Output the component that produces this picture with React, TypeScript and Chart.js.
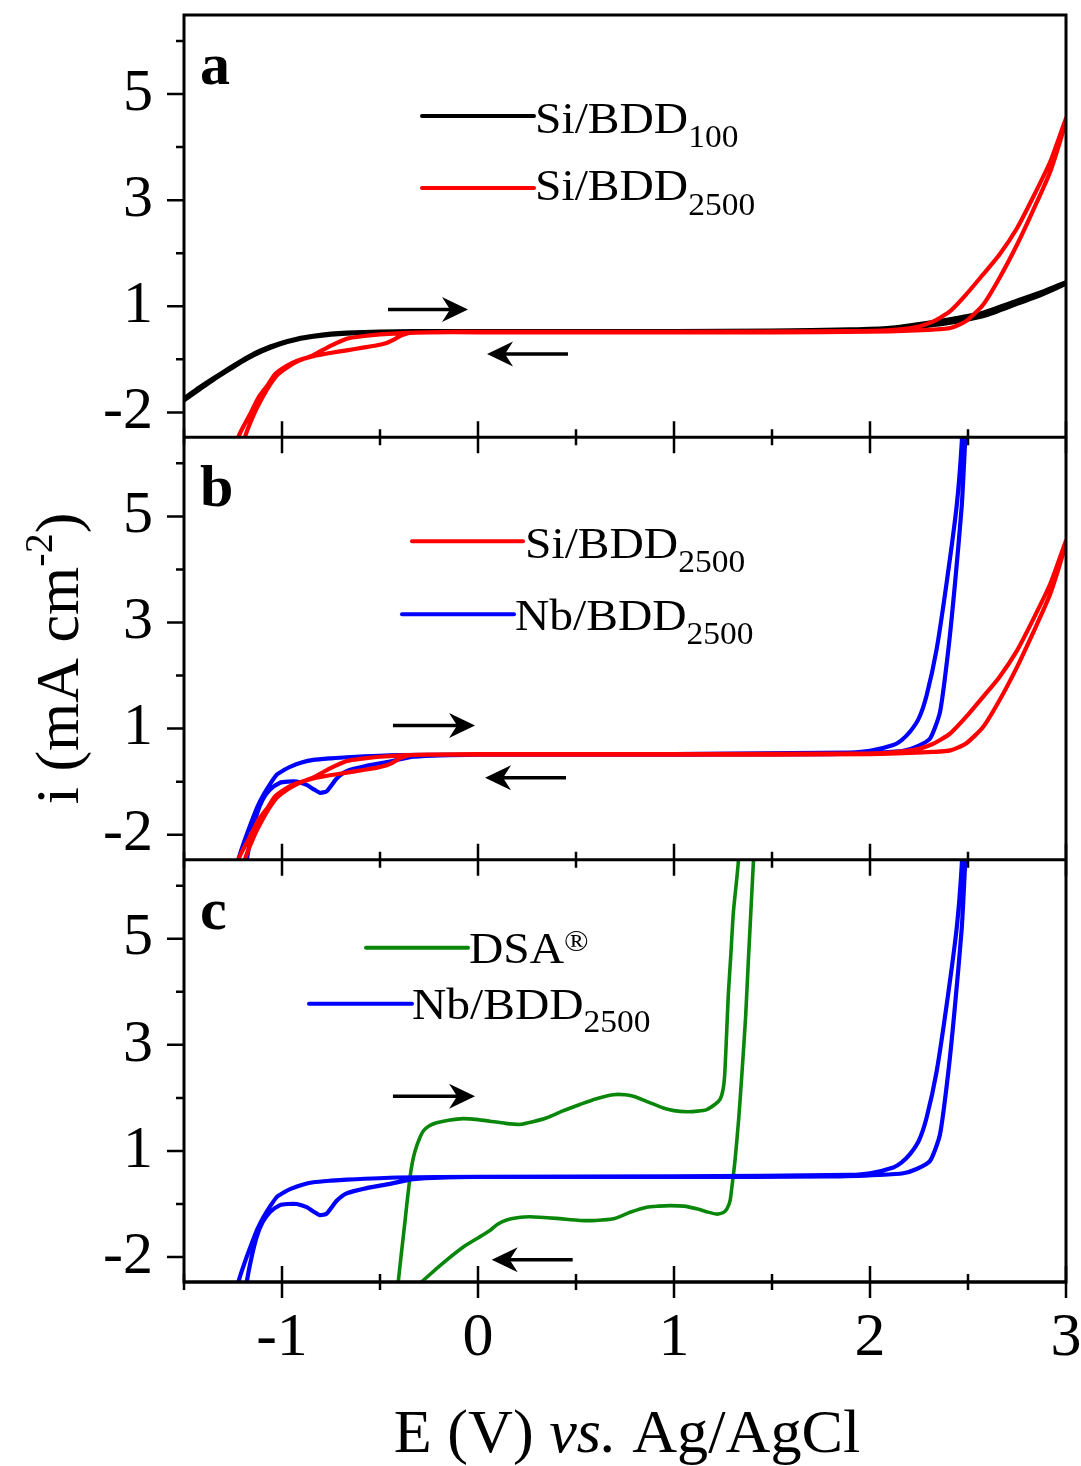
import React, { useEffect, useRef } from 'react';
import { Chart, registerables } from 'chart.js';

Chart.register(...registerables);

const SERIF = '"Liberation Serif", "Times New Roman", serif';

// ---------- axes ----------
const xRange = [-1.5, 3];
const yRange = [-1.47, 6.49];
const xMajorTicks = [-1, 0, 1, 2, 3];
const xTickLabels = ['-1', '0', '1', '2', '3'];
const xMinorTicks = [-1.5, -0.5, 0.5, 1.5, 2.5];
const yMajorTicks = [-1, 1, 3, 5];
const yTickLabels = ['-2', '1', '3', '5'];
const yMinorTicks = [0, 2, 4, 6];
const panelIds = ['ya', 'yb', 'yc'];

// ---------- series ----------
// Si/BDD100 (black), panel a
const bdd100E = [
  -1.5, -1.42, -1.35, -1.26, -1.18, -1.1, -1.01, -0.92, -0.84, -0.75, -0.67, -0.5, -0.33, 0, 0.5, 1.0, 1.5, 1.9, 2.1, 2.32, 2.45, 2.58, 2.75, 2.88, 3.0,
  3.0, 2.88, 2.75, 2.58, 2.45, 2.32, 2.1, 1.9, 1.5, 1.0, 0, -0.33, -0.5, -0.67, -0.75, -0.84, -0.92, -1.01, -1.1, -1.18, -1.26, -1.35, -1.42, -1.5,
];
const bdd100I = [
  -0.74, -0.53, -0.36, -0.15, 0.03, 0.18, 0.3, 0.39, 0.44, 0.48, 0.5, 0.52, 0.53, 0.53, 0.53, 0.53, 0.54, 0.56, 0.59, 0.7, 0.78, 0.88, 1.1, 1.27, 1.45,
  1.43, 1.23, 1.05, 0.82, 0.72, 0.65, 0.57, 0.54, 0.53, 0.52, 0.52, 0.52, 0.51, 0.49, 0.47, 0.43, 0.38, 0.29, 0.16, 0.01, -0.17, -0.38, -0.56, -0.77,
];

// Si/BDD2500 (red), panels a and b
const si2500E = [
  -1.245, -1.223, -1.165, -1.12, -1.07, -1.036, -0.98, -0.925, -0.84, -0.755, -0.67, -0.587, -0.52, -0.466, -0.43, -0.398, -0.347, -0.25, 0, 0.5, 1.0, 1.5, 2.0, 2.2, 2.32, 2.41, 2.49, 2.577, 2.66, 2.75, 2.83, 2.92, 3.0,
  3.0, 2.92, 2.83, 2.75, 2.66, 2.577, 2.49, 2.41, 2.36, 2.32, 2.25, 2.1, 1.9, 1.0, 0, -0.25, -0.364, -0.5, -0.58, -0.67, -0.755, -0.84, -0.91, -0.96, -1.02, -1.06, -1.1, -1.145, -1.189, -1.21,
];
const si2500I = [
  -2.1, -1.47, -1.05, -0.72, -0.47, -0.28, -0.13, -0.03, 0.06, 0.12, 0.17, 0.22, 0.26, 0.31, 0.37, 0.44, 0.5, 0.51, 0.51, 0.51, 0.51, 0.51, 0.52, 0.54, 0.56, 0.59, 0.72, 1.03, 1.53, 2.16, 2.79, 3.54, 4.48,
  4.54, 3.73, 3.04, 2.47, 1.97, 1.6, 1.22, 0.91, 0.79, 0.71, 0.62, 0.55, 0.53, 0.52, 0.52, 0.51, 0.5, 0.47, 0.44, 0.39, 0.25, 0.08, -0.02, -0.12, -0.28, -0.47, -0.72, -1.05, -1.47, -2.1,
];

// Nb/BDD2500 (blue), panels b and c
const nb2500E = [
  -1.245, -1.223, -1.19, -1.155, -1.125, -1.095, -1.06, -1.027, -0.99, -0.959, -0.9, -0.84, -0.75, -0.67, -0.415, 0, 1.0, 1.8, 2.05, 2.17, 2.238, 2.306, 2.357, 2.4, 2.434, 2.468, 2.485, 2.5,
  2.48, 2.468, 2.442, 2.391, 2.34, 2.289, 2.25, 2.204, 2.16, 2.119, 2.0, 1.898, 1.0, 0, -0.33, -0.449, -0.568, -0.67, -0.721, -0.772, -0.806, -0.84, -0.874, -0.925, -0.97, -1.01, -1.061, -1.1, -1.129, -1.155, -1.18, -1.2,
];
const nb2500I = [
  -2.1, -1.48, -1.1, -0.75, -0.47, -0.25, -0.04, 0.13, 0.22, 0.28, 0.36, 0.41, 0.44, 0.46, 0.5, 0.51, 0.51, 0.52, 0.55, 0.58, 0.66, 0.81, 1.31, 2.5, 3.75, 5.19, 6.38, 7.5,
  7.5, 6.38, 5.19, 3.75, 2.5, 1.63, 1.2, 0.94, 0.78, 0.69, 0.58, 0.55, 0.52, 0.51, 0.47, 0.38, 0.3, 0.2, 0.06, -0.18, -0.21, -0.14, -0.06, 0.0, 0.0, -0.02, -0.15, -0.35, -0.62, -1.0, -1.48, -2.1,
];

// DSA (green), panel c
const dsaE = [
  -0.425, -0.407, -0.39, -0.372, -0.36, -0.347, -0.335, -0.321, -0.3, -0.279, -0.25, -0.211, -0.15, -0.075, 0.0, 0.061, 0.14, 0.214, 0.28, 0.351, 0.43, 0.52, 0.6, 0.69, 0.75, 0.792, 0.87, 0.945, 1.0, 1.065, 1.12, 1.167, 1.21, 1.235, 1.25, 1.258, 1.266, 1.277, 1.29, 1.303, 1.328, 1.34,
  1.42, 1.405, 1.392, 1.379, 1.365, 1.345, 1.33, 1.311, 1.298, 1.286, 1.27, 1.252, 1.218, 1.17, 1.116, 1.05, 0.98, 0.92, 0.861, 0.78, 0.69, 0.6, 0.52, 0.4, 0.265, 0.2, 0.146, 0.1, 0.061, 0.0, -0.075, -0.194, -0.279, -0.44,
];
const dsaI = [
  -2.1, -1.47, -0.9, -0.31, 0.1, 0.5, 0.78, 1.0, 1.22, 1.375, 1.47, 1.53, 1.58, 1.61, 1.59, 1.56, 1.52, 1.5, 1.55, 1.625, 1.75, 1.875, 1.98, 2.06, 2.06, 2.03, 1.92, 1.81, 1.76, 1.74, 1.75, 1.78, 1.88, 1.97, 2.15, 2.4, 3.0, 3.94, 4.7, 5.5, 6.44, 7.5,
  7.5, 6.44, 5.5, 4.56, 3.5, 2.375, 1.6, 0.81, 0.4, 0.06, -0.09, -0.16, -0.19, -0.15, -0.09, -0.04, -0.03, -0.04, -0.06, -0.15, -0.28, -0.31, -0.31, -0.27, -0.24, -0.26, -0.3, -0.38, -0.5, -0.64, -0.81, -1.16, -1.44, -1.95,
];

// sweep-direction arrows: panel, start E, end E, current level
const arrowPanel = ['ya', 'ya', 'yb', 'yb', 'yc', 'yc'];
const arrowE0 = [-0.459, 0.459, -0.434, 0.449, -0.434, 0.483];
const arrowE1 = [-0.051, 0.046, -0.015, 0.036, -0.015, 0.07];
const arrowI = [0.94, 0.1, 1.06, 0.075, 2.03, -1.05];

const panelLetters = ['a', 'b', 'c'];

const BLACK = '#000000';
const RED = '#ff0000';
const BLUE = '#0000ff';
const GREEN = '#0a870a';

const toPts = (E: number[], I: number[]) => E.map((x, i) => ({ x, y: I[i] }));

type Part = { t: string; size: number; dy?: number; style?: string };

function fontOf(p: Part) {
  return `${p.style ? p.style + ' ' : ''}${p.size}px ${SERIF}`;
}

function drawRich(ctx: CanvasRenderingContext2D, x: number, y: number, parts: Part[], align: 'left' | 'center' = 'left', sx = 1) {
  ctx.save();
  ctx.translate(x, y);
  ctx.scale(sx, 1);
  ctx.textBaseline = 'alphabetic';
  ctx.textAlign = 'left';
  ctx.fillStyle = '#000';
  let w = 0;
  for (const p of parts) {
    ctx.font = fontOf(p);
    w += ctx.measureText(p.t).width;
  }
  let cx = align === 'center' ? -w / 2 : 0;
  for (const p of parts) {
    ctx.font = fontOf(p);
    ctx.fillText(p.t, cx, p.dy || 0);
    cx += ctx.measureText(p.t).width;
  }
  ctx.restore();
}

function drawArrow(ctx: CanvasRenderingContext2D, x0: number, x1: number, y: number) {
  const dir = x1 > x0 ? 1 : -1;
  ctx.save();
  ctx.strokeStyle = '#000';
  ctx.fillStyle = '#000';
  ctx.lineWidth = 3.5;
  ctx.beginPath();
  ctx.moveTo(x0, y);
  ctx.lineTo(x1 - dir * 12, y);
  ctx.stroke();
  ctx.beginPath();
  ctx.moveTo(x1, y);
  ctx.lineTo(x1 - dir * 26, y - 12.5);
  ctx.lineTo(x1 - dir * 18, y);
  ctx.lineTo(x1 - dir * 26, y + 12.5);
  ctx.closePath();
  ctx.fill();
  ctx.restore();
}

function legendItem(ctx: CanvasRenderingContext2D, lx0: number, lx1: number, ly: number, color: string, tx: number, ty: number, parts: Part[]) {
  ctx.save();
  ctx.strokeStyle = color;
  ctx.lineWidth = 4;
  ctx.lineCap = 'round';
  ctx.beginPath();
  ctx.moveTo(lx0, ly);
  ctx.lineTo(lx1, ly);
  ctx.stroke();
  ctx.restore();
  drawRich(ctx, tx, ty, parts, 'left', 1.08);
}

const zeroPadding = (s: any) => {
  s.paddingTop = 0;
  s.paddingBottom = 0;
  s.paddingLeft = 0;
  s.paddingRight = 0;
};

const framePlugin = {
  id: 'frame',
  afterDatasetsDraw(chart: any) {
    const ctx: CanvasRenderingContext2D = chart.ctx;
    const { left, right, top, bottom } = chart.chartArea;
    const xs = chart.scales.x;
    ctx.save();
    ctx.strokeStyle = '#000';
    ctx.lineWidth = 3;
    ctx.strokeRect(left, top, right - left, bottom - top);
    for (const id of panelIds) {
      const ys = chart.scales[id];
      ctx.lineWidth = 3;
      ctx.beginPath();
      ctx.moveTo(left, ys.bottom);
      ctx.lineTo(right, ys.bottom);
      ctx.stroke();
      ctx.lineWidth = 2.5;
      ctx.beginPath();
      for (const v of xMajorTicks) {
        const px = xs.getPixelForValue(v);
        ctx.moveTo(px, ys.bottom - 16);
        ctx.lineTo(px, ys.bottom + 16);
      }
      for (const v of xMinorTicks) {
        const px = xs.getPixelForValue(v);
        ctx.moveTo(px, ys.bottom - 8);
        ctx.lineTo(px, ys.bottom + 8);
      }
      for (const v of yMajorTicks) {
        const py = ys.getPixelForValue(v);
        ctx.moveTo(left - 17, py);
        ctx.lineTo(left, py);
      }
      for (const v of yMinorTicks) {
        if (v < ys.min || v > ys.max) continue;
        const py = ys.getPixelForValue(v);
        ctx.moveTo(left - 8, py);
        ctx.lineTo(left, py);
      }
      ctx.stroke();
    }
    ctx.restore();
  },
  afterDraw(chart: any) {
    const ctx: CanvasRenderingContext2D = chart.ctx;
    const xs = chart.scales.x;
    const { left, top, bottom, right } = chart.chartArea;

    // panel letters
    panelIds.forEach((id, i) => {
      const ys = chart.scales[id];
      drawRich(ctx, left + 16, ys.top + 69, [{ t: panelLetters[i], size: 60, style: 'bold' }]);
    });

    // arrows
    arrowPanel.forEach((id, i) => {
      const ys = chart.scales[id];
      drawArrow(ctx, xs.getPixelForValue(arrowE0[i]), xs.getPixelForValue(arrowE1[i]), ys.getPixelForValue(arrowI[i]));
    });

    // legends
    const ta = chart.scales.ya.top;
    legendItem(ctx, 422, 534, ta + 101, BLACK, 535, ta + 118, [{ t: 'Si/BDD', size: 44 }, { t: '100', size: 31, dy: 14 }]);
    legendItem(ctx, 422, 534, ta + 173, RED, 535, ta + 185, [{ t: 'Si/BDD', size: 44 }, { t: '2500', size: 31, dy: 15 }]);
    const tb = chart.scales.yb.top;
    legendItem(ctx, 412, 523, tb + 104, RED, 525, tb + 121, [{ t: 'Si/BDD', size: 44 }, { t: '2500', size: 31, dy: 14 }]);
    legendItem(ctx, 402, 514, tb + 177, BLUE, 515, tb + 193, [{ t: 'Nb/BDD', size: 44 }, { t: '2500', size: 31, dy: 14 }]);
    const tc = chart.scales.yc.top;
    legendItem(ctx, 366, 468, tc + 88, GREEN, 469, tc + 103, [{ t: 'DSA', size: 44 }, { t: '®', size: 30, dy: -12 }]);
    legendItem(ctx, 309, 412, tc + 144, BLUE, 412, tc + 159, [{ t: 'Nb/BDD', size: 44 }, { t: '2500', size: 31, dy: 13 }]);

    // axis titles
    drawRich(ctx, (left + right) / 2 + 2, bottom + 170, [
      { t: 'E (V) ', size: 61 },
      { t: 'vs.', size: 61, style: 'italic' },
      { t: ' Ag/AgCl', size: 61 },
    ], 'center', 1.02);
    ctx.save();
    ctx.translate(78, (top + bottom) / 2 + 10);
    ctx.rotate(-Math.PI / 2);
    drawRich(ctx, 0, 0, [
      { t: 'i (mA cm', size: 62 },
      { t: '-2', size: 40, dy: -26 },
      { t: ')', size: 62 },
    ], 'center');
    ctx.restore();
  },
};

function yScale(weight: number) {
  return {
    type: 'linear' as const,
    position: 'left' as const,
    stack: 'panels',
    stackWeight: 1,
    weight,
    min: yRange[0],
    max: yRange[1],
    grid: { display: false, drawTicks: false },
    border: { display: false },
    afterBuildTicks: (s: any) => {
      s.ticks = yMajorTicks.map((v) => ({ value: v }));
    },
    afterFit: (s: any) => {
      s.width = 184;
      zeroPadding(s);
    },
    ticks: {
      autoSkip: false,
      padding: 31,
      color: '#000',
      font: { family: SERIF, size: 60 },
      callback: (v: any) => {
        const i = yMajorTicks.indexOf(Number(v));
        return i >= 0 ? yTickLabels[i] : '';
      },
    },
  };
}

export default function App() {
  const ref = useRef<HTMLCanvasElement | null>(null);
  useEffect(() => {
    if (!ref.current) return;
    const line = (label: string, E: number[], I: number[], color: string, yAxisID: string, width = 4.2) => ({
      label,
      data: toPts(E, I),
      borderColor: color,
      backgroundColor: color,
      borderWidth: width,
      pointRadius: 0,
      tension: 0.2,
      fill: false,
      xAxisID: 'x',
      yAxisID,
      borderJoinStyle: 'round' as const,
      borderCapStyle: 'round' as const,
    });
    const chart = new Chart(ref.current, {
      type: 'line',
      data: {
        datasets: [
          line('Si/BDD2500', si2500E, si2500I, RED, 'ya'),
          line('Si/BDD100', bdd100E, bdd100I, BLACK, 'ya', 4.6),
          line('Si/BDD2500', si2500E, si2500I, RED, 'yb'),
          line('Nb/BDD2500', nb2500E, nb2500I, BLUE, 'yb'),
          line('Nb/BDD2500', nb2500E, nb2500I, BLUE, 'yc'),
          line('DSA', dsaE, dsaI, GREEN, 'yc', 3.6),
        ] as any,
      },
      options: {
        responsive: false,
        animation: false,
        devicePixelRatio: 1,
        layout: { autoPadding: false, padding: { top: 15, right: 15, left: 0, bottom: 0 } },
        plugins: { legend: { display: false }, title: { display: false }, tooltip: { enabled: false } },
        scales: {
          x: {
            type: 'linear',
            position: 'bottom',
            min: xRange[0],
            max: xRange[1],
            grid: { display: false, drawTicks: false },
            border: { display: false },
            afterBuildTicks: (s: any) => {
              s.ticks = xMajorTicks.map((v) => ({ value: v }));
            },
            afterFit: (s: any) => {
              s.height = 184;
              zeroPadding(s);
            },
            ticks: {
              autoSkip: false,
              maxRotation: 0,
              padding: 20,
              color: '#000',
              font: { family: SERIF, size: 62 },
              callback: (v: any) => {
                const i = xMajorTicks.indexOf(Number(v));
                return i >= 0 ? xTickLabels[i] : '';
              },
            },
          },
          ya: yScale(3),
          yb: yScale(2),
          yc: yScale(1),
        } as any,
      },
      plugins: [framePlugin],
    });
    return () => chart.destroy();
  }, []);
  return (
    <div style={{ position: 'absolute', left: 0, top: 0, width: 1081, height: 1466, background: '#fff' }}>
      <canvas ref={ref} width={1081} height={1466} style={{ display: 'block' }} />
    </div>
  );
}
